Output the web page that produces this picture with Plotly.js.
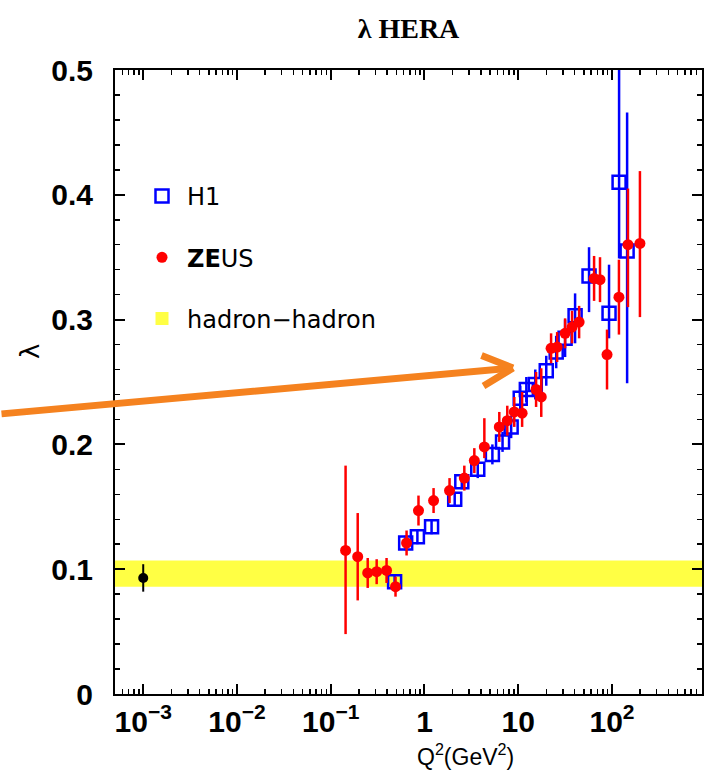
<!DOCTYPE html>
<html>
<head>
<meta charset="utf-8">
<script src="https://cdn.plot.ly/plotly-3.0.1.min.js"></script>
<style>html,body{margin:0;padding:0;background:#fff}</style>
</head>
<body>
<div id="chart" style="width:708px;height:775px"></div>
<script>
// Pomeron-like slope lambda versus Q^2 at HERA

// H1 measurements
const h1Q2    = [0.48, 0.63, 0.84, 1.19, 2.1, 2.5, 3.7, 5.3, 6.8, 8.4, 10.5, 12.2, 15.2, 19.9, 25.4, 31.6, 40.4, 56.9, 93, 119, 145];
const h1Lam   = [0.090, 0.121, 0.126, 0.134, 0.156, 0.170, 0.180, 0.192, 0.202, 0.214, 0.237, 0.244, 0.248, 0.259, 0.274, 0.285, 0.303, 0.335, 0.305, 0.410, 0.355];
const h1ErrUp = [0.006, 0.006, 0.006, 0.006, 0.006, 0.006, 0.007, 0.008, 0.008, 0.009, 0.010, 0.010, 0.012, 0.012, 0.013, 0.015, 0.018, 0.023, 0.039, 0.120, 0.111];
const h1ErrDn = [0.006, 0.006, 0.006, 0.006, 0.006, 0.006, 0.007, 0.008, 0.008, 0.009, 0.010, 0.010, 0.012, 0.012, 0.013, 0.015, 0.022, 0.029, 0.020, 0.061, 0.106];

// ZEUS measurements
const zeusQ2    = [0.144, 0.194, 0.248, 0.309, 0.394, 0.491, 0.644, 0.863, 1.25, 1.85, 2.66, 3.40, 4.35, 6.28, 7.64, 9.07, 11.0, 15.5, 17.6, 22.4, 26.0, 31.6, 37.5, 44.6, 64.4, 74.5, 88.5, 118.6, 148, 198.6];
const zeusLam   = [0.115, 0.110, 0.097, 0.098, 0.099, 0.086, 0.121, 0.147, 0.155, 0.163, 0.173, 0.187, 0.198, 0.214, 0.219, 0.226, 0.225, 0.244, 0.238, 0.277, 0.278, 0.289, 0.294, 0.298, 0.333, 0.332, 0.272, 0.318, 0.360, 0.361];
const zeusErrUp = [0.068, 0.035, 0.012, 0.010, 0.010, 0.008, 0.010, 0.012, 0.010, 0.010, 0.010, 0.010, 0.023, 0.012, 0.012, 0.012, 0.017, 0.014, 0.023, 0.012, 0.012, 0.012, 0.013, 0.013, 0.018, 0.018, 0.020, 0.030, 0.045, 0.058];
const zeusErrDn = [0.067, 0.035, 0.012, 0.010, 0.010, 0.008, 0.010, 0.012, 0.010, 0.010, 0.010, 0.010, 0.009, 0.012, 0.012, 0.012, 0.011, 0.014, 0.016, 0.012, 0.012, 0.012, 0.013, 0.013, 0.018, 0.018, 0.028, 0.030, 0.050, 0.059];

// hadron-hadron value and band
const hhQ2  = [0.001];
const hhLam = [0.093];
const hhErr = [0.011];
const hhBand = [0.086, 0.107];

// axis ticks
const xTickVals = [1e-3, 1e-2, 1e-1, 1, 10, 100];
const xTickText = ['10<sup>−3</sup>', '10<sup>−2</sup>', '10<sup>−1</sup>', '1', '10', '10<sup>2</sup>'];
const yTickVals = [0, 0.1, 0.2, 0.3, 0.4, 0.5];
const yTickText = ['0', '0.1', '0.2', '0.3', '0.4', '0.5'];

const BLUE = '#0000FF', RED = '#FF0000', YELLOW = '#FFFF44';

// minor log ticks: 2..9 within each decade
const minorX = [];
for (let d = -4; d <= 3; d++) for (let k = 2; k <= 9; k++) minorX.push(k * Math.pow(10, d));

const traces = [
  {
    x: hhQ2, y: hhLam, mode: 'markers', type: 'scatter', showlegend: false,
    marker: {symbol: 'circle', size: 10, color: '#000'},
    error_y: {type: 'data', array: hhErr, color: '#000', thickness: 2, width: 0},
    hoverinfo: 'skip'
  },
  {
    x: h1Q2, y: h1Lam, name: 'H1', mode: 'markers', type: 'scatter',
    legendgroup: 'h1', legendrank: 1,
    marker: {symbol: 'square-open', size: 13, color: BLUE, line: {width: 2.5, color: BLUE}},
    error_y: {type: 'data', symmetric: false, array: h1ErrUp, arrayminus: h1ErrDn, color: BLUE, thickness: 2.5, width: 0}
  },
  {
    x: zeusQ2, y: zeusLam, name: '<b>ZE</b>US', mode: 'markers', type: 'scatter',
    legendgroup: 'zeus', legendrank: 2,
    marker: {symbol: 'circle', size: 11, color: RED},
    error_y: {type: 'data', symmetric: false, array: zeusErrUp, arrayminus: zeusErrDn, color: RED, thickness: 2.5, width: 0}
  },
  {
    x: [null], y: [null], name: 'hadron−hadron', mode: 'markers', type: 'scatter',
    legendgroup: 'hh', legendrank: 3,
    marker: {symbol: 'square', size: 13, color: YELLOW}
  }
];

// plot frame in pixels and helpers for paper coordinates
const plotL = 115, plotR = 702, plotT = 70, plotB = 694;
const px = (X) => (X - plotL) / (plotR - plotL);
const py = (Y) => (plotB - Y) / (plotB - plotT);
const tip = [513, 368];
const ORANGE = '#F5821F';

const arrowPiece = (ax, ay) => ({
  text: '', xref: 'paper', yref: 'paper', x: px(tip[0]), y: py(tip[1]),
  showarrow: true, arrowhead: 0, arrowwidth: 7, arrowcolor: ORANGE,
  ax: ax, ay: ay, standoff: 0
});

const layout = {
  width: 708, height: 775,
  margin: {l: plotL, r: 708 - plotR, t: plotT, b: 775 - plotB},
  paper_bgcolor: '#fff', plot_bgcolor: '#fff',
  showlegend: true,
  title: {
    text: '<b>λ HERA</b>', x: 0.5, xref: 'paper', xanchor: 'center',
    y: 1 - 28 / 775, yref: 'container', yanchor: 'middle',
    font: {family: 'Liberation Serif', size: 28, color: '#000'}
  },
  xaxis: {
    type: 'log', range: [Math.log10(5e-4), 2.96],
    tickmode: 'array', tickvals: xTickVals, ticktext: xTickText,
    ticks: 'inside', ticklen: 10, tickwidth: 2, tickcolor: '#000',
    showline: true, linewidth: 2, linecolor: '#000', mirror: 'allticks',
    showgrid: false, zeroline: false,
    tickfont: {family: 'Liberation Sans', size: 30, weight: 'bold', color: '#000'},
    ticklabelstandoff: 0,
    minor: {tickmode: 'array', tickvals: minorX, ticks: 'inside', ticklen: 5, tickwidth: 1.5, tickcolor: '#000', showgrid: false}
  },
  yaxis: {
    range: [0, 0.5],
    tickmode: 'array', tickvals: yTickVals, ticktext: yTickText,
    ticks: 'inside', ticklen: 10, tickwidth: 2, tickcolor: '#000',
    showline: true, linewidth: 2, linecolor: '#000', mirror: 'allticks',
    showgrid: false, zeroline: false,
    tickfont: {family: 'Liberation Sans', size: 30, weight: 'bold', color: '#000'},
    ticklabelstandoff: 14,
    minor: {dtick: 0.02, ticks: 'inside', ticklen: 5, tickwidth: 1.5, tickcolor: '#000', showgrid: false}
  },
  legend: {
    x: px(137), y: py(174), xanchor: 'left', yanchor: 'top',
    bgcolor: 'rgba(0,0,0,0)', borderwidth: 0,
    font: {family: 'DejaVu Sans', size: 24, color: '#000'},
    itemwidth: 40, tracegroupgap: 27, itemclick: false
  },
  shapes: [{
    type: 'rect', xref: 'paper', x0: 0, x1: 1, yref: 'y', y0: hhBand[0], y1: hhBand[1],
    fillcolor: YELLOW, line: {width: 0}, layer: 'below'
  }],
  annotations: [
    {
      text: 'λ', xref: 'paper', yref: 'paper', x: px(30), y: py(352),
      xanchor: 'center', yanchor: 'middle',
      showarrow: false, textangle: -90,
      font: {family: 'DejaVu Sans', size: 26, color: '#000'}
    },
    {
      text: 'Q<sup>2</sup>(GeV<sup>2</sup>)', xref: 'paper', yref: 'paper',
      x: px(465), y: py(755), xanchor: 'center', yanchor: 'middle', showarrow: false,
      font: {family: 'Liberation Sans', size: 23, color: '#000'}
    },
    // arrow shaft and the two arms of its head
    arrowPiece(0 - tip[0], 414 - tip[1]),
    arrowPiece(-33, -13),
    arrowPiece(-31, 19)
  ]
};

Plotly.newPlot('chart', traces, layout, {displayModeBar: false, staticPlot: true});
</script>
</body>
</html>
